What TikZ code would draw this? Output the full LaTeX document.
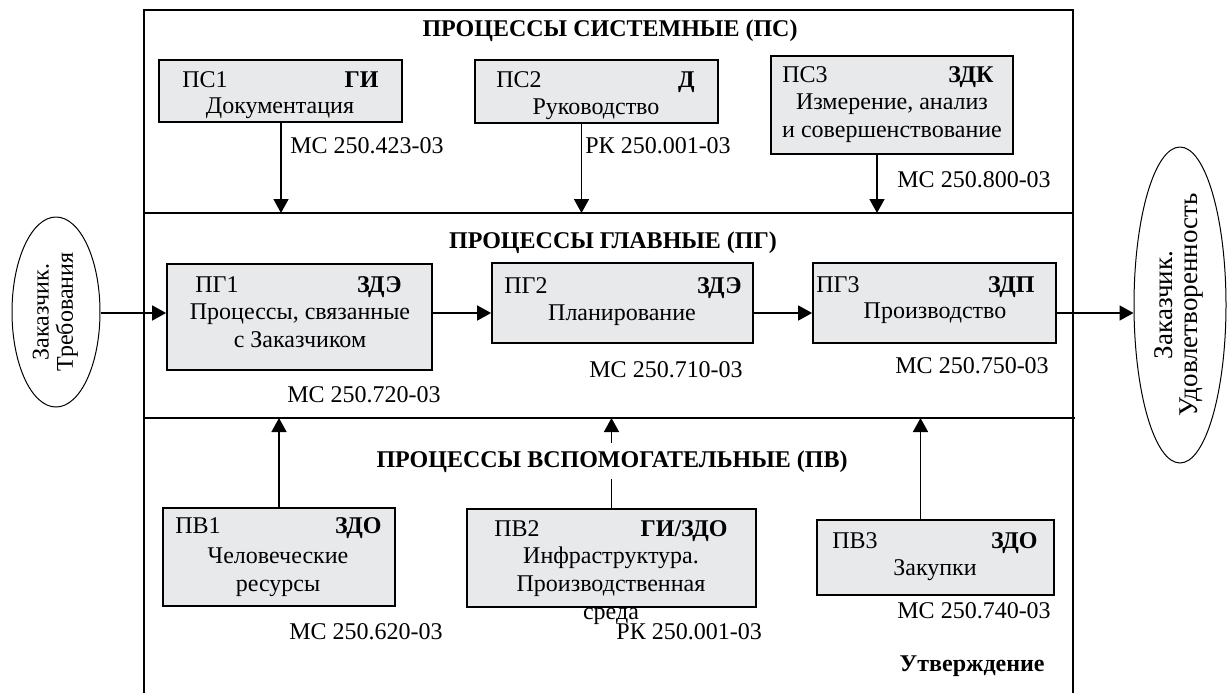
\documentclass[tikz,border=0pt]{standalone}
\usepackage{fontspec}
\setmainfont{Liberation Serif}
\usetikzlibrary{arrows.meta,shapes.geometric,fit}
\definecolor{boxfill}{RGB}{232,233,235}
\tikzset{
    proc/.style={draw, fill=boxfill, line width=0.9pt, inner sep=0pt},
    frameline/.style={line width=0.6pt},
    arr/.style={-{Triangle[length=7pt,width=7.5pt]}, line width=0.8pt},
    txt/.style={inner sep=0pt, font=\fontsize{12pt}{14pt}\selectfont},
    code/.style={txt, font=\fontsize{12pt}{14pt}\selectfont\bfseries},
    body/.style={txt, align=center, anchor=base},
    client/.style={draw, ellipse, line width=0.5pt, inner sep=0pt},
}

\begin{document}
\begin{tikzpicture}[x=0.5pt, y=-0.5pt]
    \useasboundingbox (0,0) rectangle (1227,693);
    % frame and the three bands
    \draw[frameline] (144,693) -- (144,10) -- (1073,10) -- (1073,693);
    \coordinate (div1) at (144,213);
    \coordinate (div2) at (144,418);
    \coordinate (flow) at (0,313);
    \draw[frameline] (div1) -- (1073,213);
    \draw[frameline] (div2) -- (1075,418);

    % boxes
    \node[proc, fit={(159,60) (402,122)}] (ps1) {};
    \node[proc, fit={(475,60) (718,123)}] (ps2) {};
    \node[proc, fit={(771,56) (1013,154)}] (ps3) {};
    \node[proc, fit={(167,264) (432,370)}] (pg1) {};
    \node[proc, fit={(492,263) (753,343)}] (pg2) {};
    \node[proc, fit={(813,263) (1056,343)}] (pg3) {};
    \node[proc, fit={(163,508) (395,606)}] (pv1) {};
    \node[proc, fit={(467,509) (756,607)}] (pv2) {};
    \node[proc, fit={(817,520) (1054,595)}] (pv3) {};

    \node[client, minimum width=44pt, minimum height=95pt] (zakaz) at (56,312)
        {\rotatebox{90}{\fontsize{12pt}{12pt}\selectfont\begin{tabular}{@{}c@{}}Заказчик.\\Требования\end{tabular}}};
    \node[client, minimum width=46pt, minimum height=158pt] (udovl) at (1180,305)
        {\rotatebox{90}{\fontsize{13.5pt}{12.5pt}\selectfont\begin{tabular}{@{}c@{}}Заказчик.\\Удовлетворенность\end{tabular}}};

    % arrows
    \draw[arr] ([xshift=0.25pt]ps1.south) -- ([xshift=0.25pt]ps1.south |- div1);
    \draw[arr] ([xshift=-7.5pt]ps2.south) -- ([xshift=-7.5pt]ps2.south |- div1);
    \draw[arr] ([xshift=-7.5pt]ps3.south) -- ([xshift=-7.5pt]ps3.south |- div1);
    \draw[arr] (zakaz.east |- flow) -- (pg1.west |- flow);
    \draw[arr] (pg1.east |- flow) -- (pg2.west |- flow);
    \draw[arr] (pg2.east |- flow) -- (pg3.west |- flow);
    \draw[arr] (pg3.east |- flow) -- (udovl.west |- flow);
    \draw[arr] (pv1.north) -- (pv1.north |- div2);
    \draw[arr] (pv2.north) -- (pv2.north |- div2);
    \draw[arr] ([xshift=-7.5pt]pv3.north) -- ([xshift=-7.5pt]pv3.north |- div2);

    % band titles
    \node[code, anchor=base] (tps) at (610,36) {ПРОЦЕССЫ СИСТЕМНЫЕ (ПС)};
    \node[code, anchor=base] (tpg) at (613,248) {ПРОЦЕССЫ ГЛАВНЫЕ (ПГ)};
    \node[code, anchor=base, fill=white, inner sep=3.5pt] (tpv) at (612,467) {ПРОЦЕССЫ ВСПОМОГАТЕЛЬНЫЕ (ПВ)};

    % box texts
    \node[txt, anchor=base west] (ps1id) at (182,87) {ПС1};
    \node[code, anchor=base east] (ps1cd) at (379,87) {ГИ};
    \node[body] (ps1tx) at (280,113) {Документация};
    \node[txt, anchor=base west] (ps2id) at (496,87) {ПС2};
    \node[code, anchor=base east] (ps2cd) at (695,87) {Д};
    \node[body] (ps2tx) at (596,114) {Руководство};
    \node[txt, anchor=base west] (ps3id) at (782,82) {ПС3};
    \node[code, anchor=base east] (ps3cd) at (994,82) {ЗДК};
    \node[body] (ps3tx) at (892,137) {Измерение, анализ\\и совершенствование};

    \node[txt, anchor=base west] (pg1id) at (195,292) {ПГ1};
    \node[code, anchor=base east] (pg1cd) at (402,292) {ЗДЭ};
    \node[body] (pg1tx) at (300,347) {Процессы, связанные\\с Заказчиком};
    \node[txt, anchor=base west] (pg2id) at (504,293) {ПГ2};
    \node[code, anchor=base east] (pg2cd) at (742,293) {ЗДЭ};
    \node[body] (pg2tx) at (622,320) {Планирование};
    \node[txt, anchor=base west] (pg3id) at (816,292) {ПГ3};
    \node[code, anchor=base east] (pg3cd) at (1035,292) {ЗДП};
    \node[body] (pg3tx) at (935,318) {Производство};

    \node[txt, anchor=base west] (pv1id) at (175,533) {ПВ1};
    \node[code, anchor=base east] (pv1cd) at (382,533) {ЗДО};
    \node[body] (pv1tx) at (278,591) {Человеческие\\ресурсы};
    \node[txt, anchor=base west] (pv2id) at (494,536) {ПВ2};
    \node[code, anchor=base east] (pv2cd) at (728,536) {ГИ/ЗДО};
    \node[body] (pv2tx) at (611,619) {Инфраструктура.\\Производственная\\среда};
    \node[txt, anchor=base west] (pv3id) at (832,548) {ПВ3};
    \node[code, anchor=base east] (pv3cd) at (1038,548) {ЗДО};
    \node[body] (pv3tx) at (935,575) {Закупки};

    % document labels
    \node[txt, anchor=base west] (doc1) at (290,153) {МС 250.423-03};
    \node[txt, anchor=base west] (doc2) at (585,153) {РК 250.001-03};
    \node[txt, anchor=base west] (doc3) at (897,187) {МС 250.800-03};
    \node[txt, anchor=base west] (doc4) at (287,402) {МС 250.720-03};
    \node[txt, anchor=base west] (doc5) at (589,377) {МС 250.710-03};
    \node[txt, anchor=base west] (doc6) at (895,373) {МС 250.750-03};
    \node[txt, anchor=base west] (doc7) at (289,639) {МС 250.620-03};
    \node[txt, anchor=base west] (doc8) at (616,639) {РК 250.001-03};
    \node[txt, anchor=base west] (doc9) at (897,618) {МС 250.740-03};
    \node[code, anchor=base east] (utv) at (1045,671) {Утверждение};
\end{tikzpicture}
\end{document}
